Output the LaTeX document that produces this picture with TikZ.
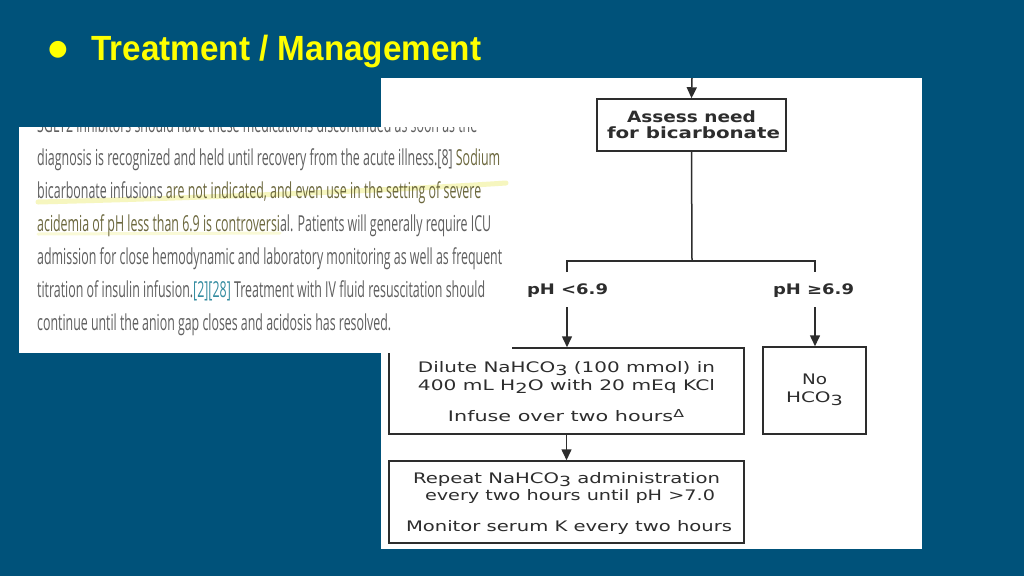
\documentclass[tikz,border=0pt]{standalone}
\usepackage{fontspec}
\usepackage{graphicx}
\setmainfont{DejaVu Sans}
\newfontfamily\titlefont{Liberation Sans}
\newfontfamily\excfont{Open Sans}
\newfontfamily\flowfont{DejaVu Sans}
\usetikzlibrary{arrows.meta}
\definecolor{bg}{RGB}{0,82,122}
\definecolor{ttl}{RGB}{255,255,0}
\definecolor{exgray}{RGB}{95,95,95}
\definecolor{exolive}{RGB}{108,104,62}
\definecolor{excite}{RGB}{52,140,160}
\definecolor{hl}{RGB}{240,240,140}
\definecolor{fc}{RGB}{45,45,45}
\newcommand\fitw[2]{\resizebox{#1}{\height}{#2}}
\newcommand\sbt[1]{\raisebox{-3pt}{\fontsize{14}{14}\selectfont #1}}
\begin{document}
\begin{tikzpicture}[x=1pt,y=-1pt,
  exline/.style={anchor=base west,inner sep=0pt,text=exgray,font=\excfont\fontsize{22}{22}\selectfont},
  fbox/.style={draw=fc,line width=1.5pt,inner sep=0pt},
  ftext/.style={anchor=base,inner sep=0pt,text=fc,font=\flowfont\fontsize{14.5}{14.5}\selectfont},
  fbold/.style={ftext,font=\flowfont\bfseries\fontsize{15.5}{15.5}\selectfont},
  conn/.style={draw=fc,line width=1.5pt},
  arr/.style={conn,-{Triangle[width=10pt,length=11pt]}}]
\useasboundingbox (0,0) rectangle (1024,576);
\fill[bg] (0,0) rectangle (1024,576);
% title
\node[text=ttl,inner sep=0pt,font=\flowfont\fontsize{22}{22}\selectfont] (bul) at (58,50) {●};
\node[anchor=base west,inner sep=0pt,text=ttl,font=\titlefont\bfseries\fontsize{35}{35}\selectfont] (title) at (91,60) {\fitw{390pt}{Treatment / Management}};
% flowchart panel
\fill[white] (381,78) rectangle (922,549);
\coordinate (topin) at (692,78);
\node[fbox,minimum width=189pt,minimum height=52pt] (assess) at (691.5,125) {};
\node[fbox,minimum width=355pt,minimum height=86pt] (dilute) at (566.5,391) {};
\node[fbox,minimum width=103pt,minimum height=87pt] (nohco) at (814.5,390.5) {};
\node[fbox,minimum width=355pt,minimum height=82pt] (repeat) at (566.5,502) {};
\node[fbold] (a1) at (691.5,122) {\fitw{129pt}{Assess need}};
\node[fbold] (a2) at (693.5,138) {\fitw{173pt}{for bicarbonate}};
\node[fbold,font=\flowfont\bfseries\fontsize{14.5}{14.5}\selectfont] (lowph) at (567.5,294) {\fitw{81pt}{pH <6.9}};
\node[fbold,font=\flowfont\bfseries\fontsize{14.5}{14.5}\selectfont] (highph) at (813.5,294) {\fitw{81pt}{pH ≥6.9}};
% texts inside boxes
\node[ftext] (d1) at (566.5,372) {\fitw{297pt}{Dilute NaHCO\sbt{3} (100 mmol) in}};
\node[ftext] (d2) at (566.5,390) {\fitw{297pt}{400 mL H\sbt{2}O with 20 mEq KCl}};
\node[ftext] (d3) at (566,421) {\fitw{236pt}{Infuse over two hours\raisebox{4pt}{\fontsize{11}{11}\selectfont Δ}}};
\node[ftext] (n1) at (814.5,384) {\fitw{25pt}{No}};
\node[ftext] (n2) at (814.5,402) {\fitw{57pt}{HCO\sbt{3}}};
\node[ftext] (r1) at (566.5,483) {\fitw{307pt}{Repeat NaHCO\sbt{3} administration}};
\node[ftext] (r2) at (570,500) {\fitw{290pt}{every two hours until pH >7.0}};
\node[ftext] (r3) at (569,531) {\fitw{326pt}{Monitor serum K every two hours}};
% connectors
\coordinate (junc) at (692,261);
\coordinate (jl) at (567,261);
\coordinate (jr) at (815,261);
\coordinate (tl) at (567,272);
\coordinate (tr) at (815,272);
\coordinate (al) at (567,307);
\coordinate (ar) at (815,307);
\draw[arr] (topin) -- (assess.north);
\draw[conn] (assess.south) -- (junc);
\draw[conn] (tl) -- (jl) -- (jr) -- (tr);
\draw[arr] (al) -- (dilute.north -| al);
\draw[arr] (ar) -- (nohco.north -| ar);
\draw[arr] (dilute.south) -- (repeat.north);
% excerpt panel
\begin{scope}
\clip (19,127) rectangle (512,353);
\fill[white] (19,127) rectangle (512,353);
\draw[hl,opacity=0.55,line width=5pt,line cap=round] (38,202) .. controls (200,198) and (400,190) .. (506,183);
\draw[hl,opacity=0.35,line width=3pt,line cap=round] (38,234) -- (280,233);
\node[exline] (e0) at (37,132) {\fitw{440pt}{SGLT2 inhibitors should have these medications discontinued as soon as the}};
\node[exline] (e1) at (37,165) {\fitw{463pt}{diagnosis is recognized and held until recovery from the acute illness.[8] \textcolor{exolive}{Sodium}}};
\node[exline] (e2) at (37,198) {\fitw{444pt}{bicarbonate infusions \textcolor{exolive}{are not indicated, and even use in the setting of severe}}};
\node[exline] (e3) at (37,231) {\fitw{454pt}{\textcolor{exolive}{acidemia of pH less than 6.9 is controversi}al. Patients will generally require ICU}};
\node[exline] (e4) at (37,264) {\fitw{465pt}{admission for close hemodynamic and laboratory monitoring as well as frequent}};
\node[exline] (e5) at (37,297) {\fitw{448pt}{titration of insulin infusion.\textcolor{excite}{[2][28]} Treatment with IV fluid resuscitation should}};
\node[exline] (e6) at (37,330) {\fitw{354pt}{continue until the anion gap closes and acidosis has resolved.}};
\end{scope}
\end{tikzpicture}
\end{document}
